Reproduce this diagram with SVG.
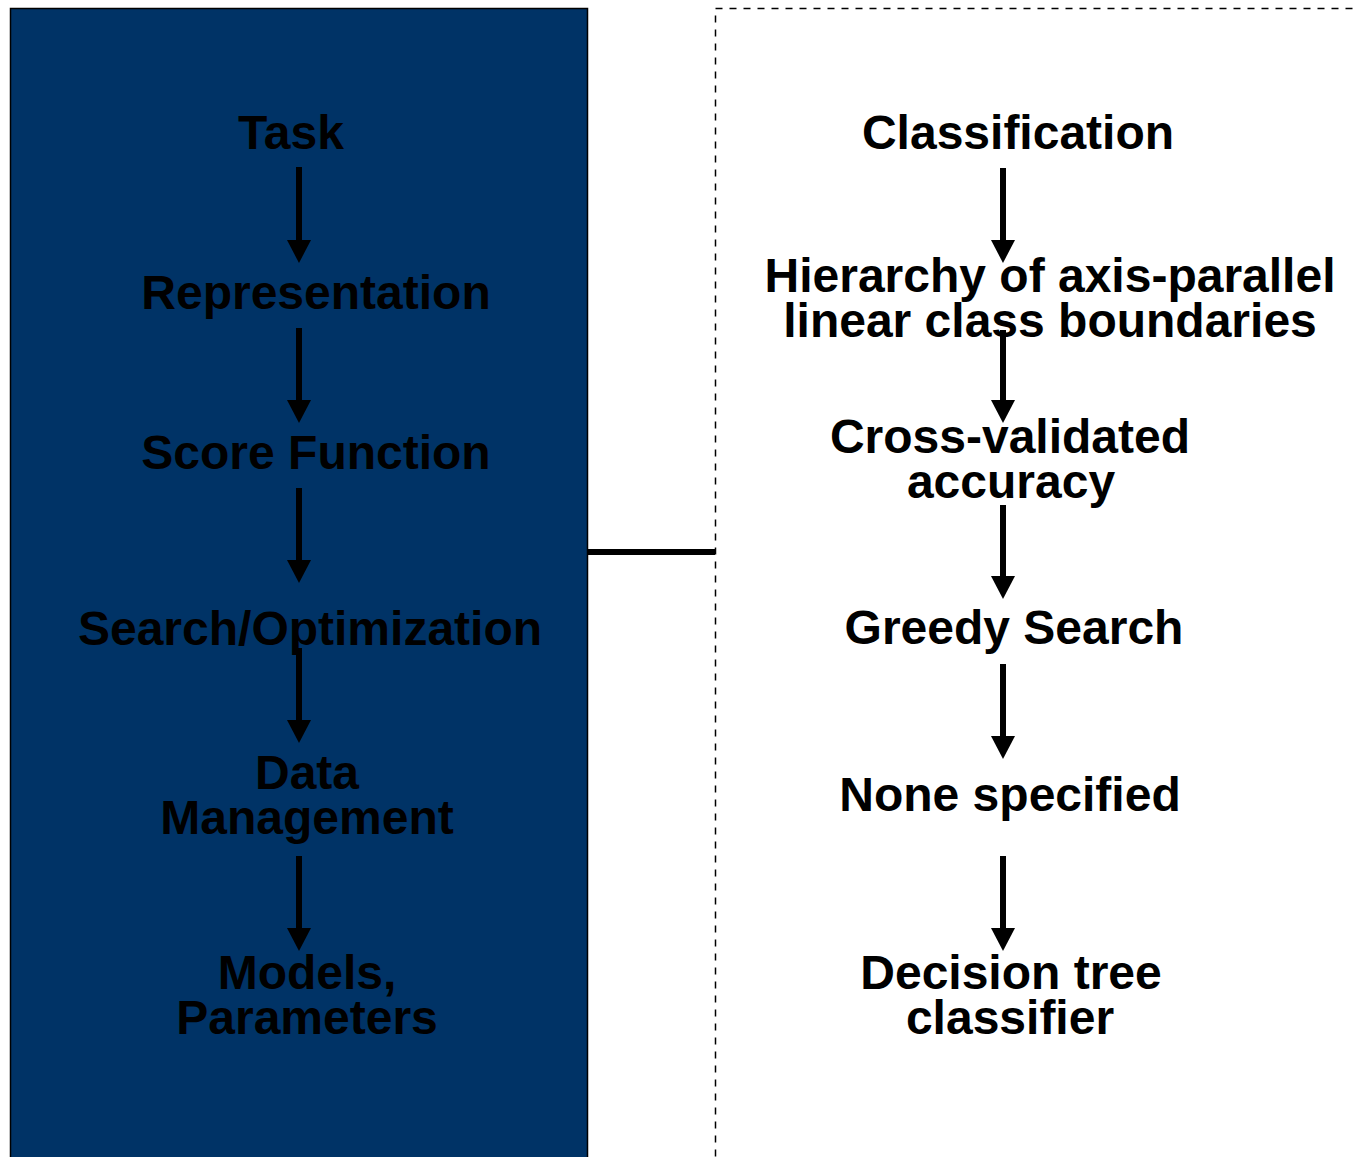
<svg xmlns="http://www.w3.org/2000/svg" width="1353" height="1157" viewBox="0 0 1353 1157">
<style>
text{font-family:"Liberation Sans",Arial,sans-serif;font-weight:bold;font-size:48px;fill:#000;text-anchor:middle}
.shaft{stroke:#000;stroke-width:6;fill:none}
</style>
<rect width="1353" height="1157" fill="#fff"/>
<g id="left-panel">
<rect x="10.5" y="8.5" width="577" height="1160" fill="#003366" stroke="#000" stroke-width="1.5"/>
</g>
<g id="right-panel">
<rect x="715.5" y="8.5" width="660" height="1160" fill="none" stroke="#000" stroke-width="1.5" stroke-dasharray="7,7"/>
</g>
<g id="connectors">
<line x1="588" y1="552" x2="715" y2="552" stroke="#000" stroke-width="6"/>
<g class="left-arrows">
<path class="shaft" d="M299,167 V241"/><path d="M287,240 H311 L299,263 Z"/>
<path class="shaft" d="M299,328 V401"/><path d="M287,400 H311 L299,423 Z"/>
<path class="shaft" d="M299,488 V561"/><path d="M287,560 H311 L299,583 Z"/>
<path class="shaft" d="M299,648 V721"/><path d="M287,720 H311 L299,743 Z"/>
<path class="shaft" d="M299,856 V929"/><path d="M287,928 H311 L299,951 Z"/>
</g>
<g class="right-arrows">
<path class="shaft" d="M1003,168 V241"/><path d="M991,240 H1015 L1003,263 Z"/>
<path class="shaft" d="M1003,330 V401"/><path d="M991,400 H1015 L1003,423 Z"/>
<path class="shaft" d="M1003,505 V577"/><path d="M991,576 H1015 L1003,599 Z"/>
<path class="shaft" d="M1003,664 V737"/><path d="M991,736 H1015 L1003,759 Z"/>
<path class="shaft" d="M1003,856 V929"/><path d="M991,928 H1015 L1003,951 Z"/>
</g>
</g>
<g id="node-task"><text x="291" y="149">Task</text></g>
<g id="node-representation"><text x="316" y="309">Representation</text></g>
<g id="node-score"><text x="316" y="469">Score Function</text></g>
<g id="node-search"><text x="310" y="645">Search/Optimization</text></g>
<g id="node-data"><text x="307" y="789">Data</text><text x="307" y="834">Management</text></g>
<g id="node-models"><text x="307" y="989">Models,</text><text x="307" y="1034">Parameters</text></g>
<g id="node-classification"><text x="1018" y="149">Classification</text></g>
<g id="node-hierarchy"><text x="1050" y="292">Hierarchy of axis-parallel</text><text x="1050" y="337">linear class boundaries</text></g>
<g id="node-cv"><text x="1010" y="453">Cross-validated</text><text x="1011" y="498">accuracy</text></g>
<g id="node-greedy"><text x="1014" y="644">Greedy Search</text></g>
<g id="node-none"><text x="1010" y="811">None specified</text></g>
<g id="node-dt"><text x="1011" y="989">Decision tree</text><text x="1010" y="1034">classifier</text></g>
</svg>
